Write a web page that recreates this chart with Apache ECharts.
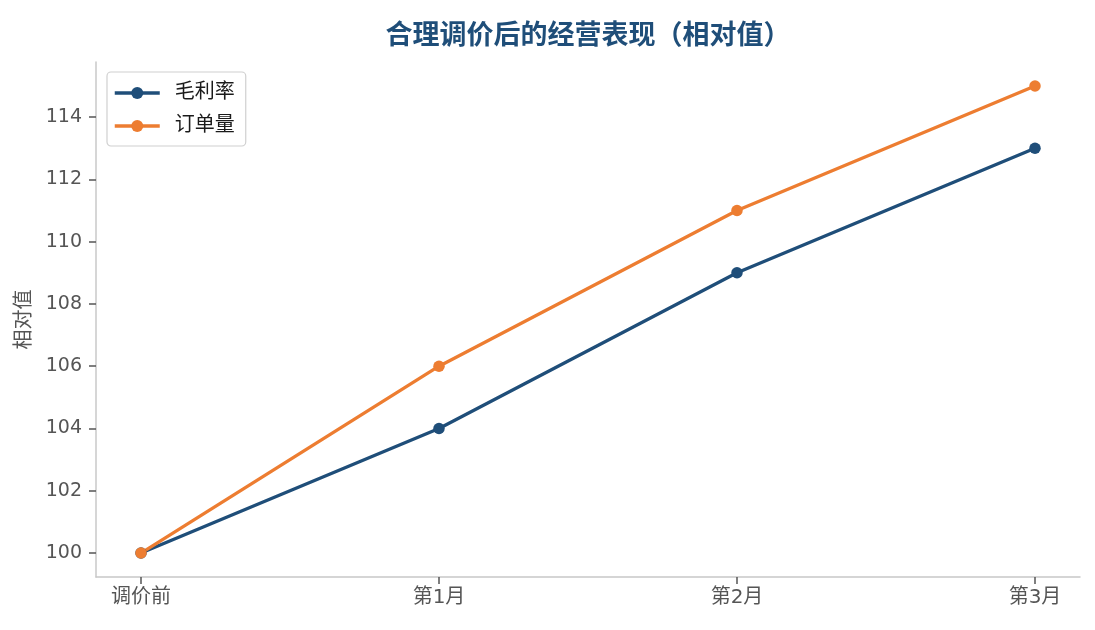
<!DOCTYPE html>
<html>
<head>
<meta charset="utf-8">
<script src="https://cdn.jsdelivr.net/npm/echarts@6/dist/echarts.min.js"></script>
<style>
  html, body { margin: 0; padding: 0; background: #fff; }
  #chart { width: 1095px; height: 630px; }
</style>
</head>
<body>
<div id="chart"></div>
<script>
// 数据
const categories = ["调价前", "第1月", "第2月", "第3月"]
const grossMargin = [100, 104, 109, 113]   // 毛利率
const orderVolume = [100, 106, 111, 115]   // 订单量
const yTicks = [100, 102, 104, 106, 108, 110, 112, 114]

const font = "'DejaVu Sans', 'Noto Sans CJK SC', sans-serif"
const toPoints = arr => arr.map((v, i) => [i, v])

const chart = echarts.init(document.getElementById("chart"))
const option = {
  animation: false,
  textStyle: { fontFamily: font },
  title: {
    text: "合理调价后的经营表现（相对值）",
    left: 583,
    top: 15,
    textAlign: "center",
    textStyle: { fontSize: 27, fontWeight: "bold", color: "#1f4e79", fontFamily: "'Noto Sans CJK SC', sans-serif" },
  },
  legend: {
    left: 107,
    top: 72,
    orient: "vertical",
    itemWidth: 45,
    itemHeight: 15,
    itemGap: 13,
    padding: [11, 11, 10, 6],
    borderColor: "#d0d0d0",
    borderWidth: 1.2,
    borderRadius: 4,
    lineStyle: { width: 3.5 },
    textStyle: { fontSize: 20, color: "#1a1a1a", fontFamily: font, padding: [0, 0, 0, 10] },
    data: ["毛利率", "订单量"],
  },
  grid: { left: 96, right: 15, top: 62, bottom: 53 },
  xAxis: {
    type: "value",
    min: -0.151,
    max: 3.151,
    splitLine: { show: false },
    axisLine: { show: true, onZero: false, lineStyle: { color: "#c8c8c8", width: 1.5 } },
    axisTick: { show: true, customValues: [0, 1, 2, 3], length: 7, lineStyle: { color: "#555", width: 1.5 } },
    axisLabel: {
      customValues: [0, 1, 2, 3],
      formatter: v => categories[Math.round(v)],
      fontSize: 20, color: "#555", margin: 11, fontFamily: font,
    },
  },
  yAxis: {
    type: "value",
    min: 99.23,
    max: 115.77,
    name: "相对值",
    nameLocation: "middle",
    nameGap: 61,
    nameTextStyle: { fontSize: 20, color: "#555", fontFamily: font },
    splitLine: { show: false },
    axisLine: { show: true, onZero: false, lineStyle: { color: "#c8c8c8", width: 1.5 } },
    axisTick: { show: true, customValues: yTicks, length: 7, lineStyle: { color: "#555", width: 1.5 } },
    axisLabel: { customValues: yTicks, fontSize: 19, color: "#555", margin: 14, fontFamily: font },
  },
  series: [
    {
      name: "毛利率",
      type: "line",
      data: toPoints(grossMargin),
      symbol: "circle",
      symbolSize: 11.5,
      lineStyle: { width: 3.3, color: "#1f4e79" },
      itemStyle: { color: "#1f4e79" },
    },
    {
      name: "订单量",
      type: "line",
      data: toPoints(orderVolume),
      symbol: "circle",
      symbolSize: 11.5,
      lineStyle: { width: 3.3, color: "#ed7d31" },
      itemStyle: { color: "#ed7d31" },
    },
  ],
}
chart.setOption(option)
</script>
</body>
</html>
